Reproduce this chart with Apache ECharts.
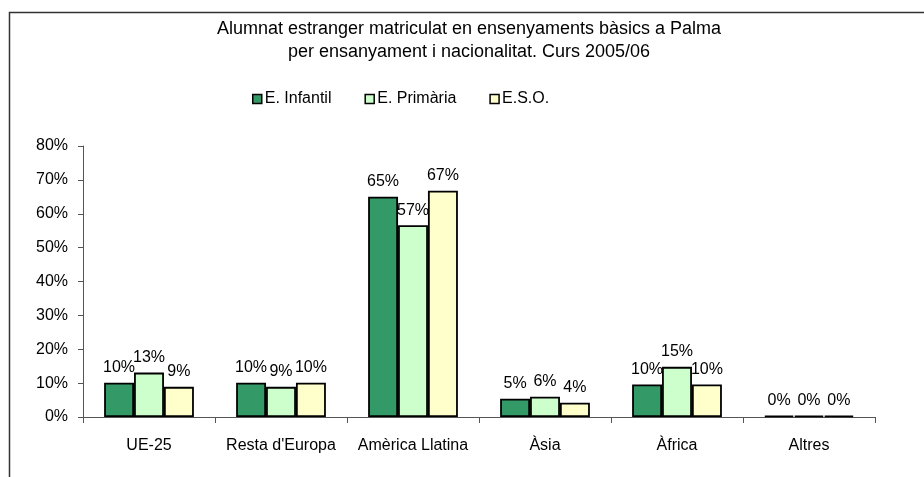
<!DOCTYPE html>
<html>
<head>
<meta charset="utf-8">
<script src="https://cdn.jsdelivr.net/npm/echarts@6/dist/echarts.min.js"></script>
<style>
  html, body { margin: 0; padding: 0; background: #fff; }
  #chart { width: 924px; height: 477px; }
</style>
</head>
<body>
<div id="chart"></div>
<script>
// dades llegides del gràfic (percentatges)
const categories = ['UE-25', "Resta d'Europa", 'Amèrica Llatina', 'Àsia', 'Àfrica', 'Altres']
const infantil = [10.1, 10.1, 65.0, 5.4, 9.6, 0.4]
const primaria = [13.1, 8.9, 56.6, 6.0, 14.8, 0.4]
const eso = [8.9, 10.1, 66.8, 4.2, 9.6, 0.4]
const seriesNames = ['E. Infantil', 'E. Primària', 'E.S.O.']
const colors = ['#339966', '#CCFFCC', '#FFFFCC']

const font = 'Liberation Sans, Arial, sans-serif'
const chart = echarts.init(document.getElementById('chart'))

function makeSeries(name, data, color) {
  return {
    name: name,
    type: 'bar',
    data: data,
    barGap: '0%',
    barCategoryGap: '32%',
    itemStyle: { color: color, borderColor: '#000', borderWidth: 1.8 },
    label: {
      show: true,
      position: 'top',
      distance: 7,
      color: '#000',
      fontFamily: font,
      fontSize: 16,
      formatter: p => Math.round(p.value) + '%'
    },
    animation: false
  }
}

chart.setOption({
  title: {
    text: 'Alumnat estranger matriculat en ensenyaments bàsics a Palma\nper ensanyament i nacionalitat. Curs 2005/06',
    left: 464,
    textAlign: 'center',
    top: 13,
    textStyle: { fontFamily: font, fontSize: 18, fontWeight: 'normal', color: '#000', lineHeight: 23 }
  },
  legend: {
    top: 86,
    left: 247,
    itemWidth: 9,
    itemHeight: 9,
    itemGap: 33,
    icon: 'rect',
    itemStyle: { borderColor: '#000', borderWidth: 1.5 },
    textStyle: { fontFamily: font, fontSize: 16, color: '#000', padding: [0, 0, 0, -2] },
    data: seriesNames
  },
  graphic: [{
    type: 'rect',
    shape: { x: 9.5, y: 12.5, width: 1000, height: 600 },
    style: { fill: 'none', stroke: '#333', lineWidth: 1.5 },
    silent: true
  }],
  grid: { left: 83, right: 49, top: 146, bottom: 60 },
  xAxis: {
    type: 'category',
    data: categories,
    axisLine: { lineStyle: { color: '#555', width: 1 } },
    axisTick: { show: true, length: 6, lineStyle: { color: '#555' } },
    axisLabel: { interval: 0, margin: 21, color: '#000', fontFamily: font, fontSize: 16 }
  },
  yAxis: {
    type: 'value',
    min: 0,
    max: 80,
    interval: 10,
    axisLine: { show: true, lineStyle: { color: '#555', width: 1 } },
    axisTick: { show: true, length: 5, lineStyle: { color: '#555' } },
    splitLine: { show: false },
    axisLabel: { margin: 15, color: '#000', fontFamily: font, fontSize: 16, formatter: '{value}%' }
  },
  series: [
    makeSeries(seriesNames[0], infantil, colors[0]),
    makeSeries(seriesNames[1], primaria, colors[1]),
    makeSeries(seriesNames[2], eso, colors[2])
  ]
})
</script>
</body>
</html>
